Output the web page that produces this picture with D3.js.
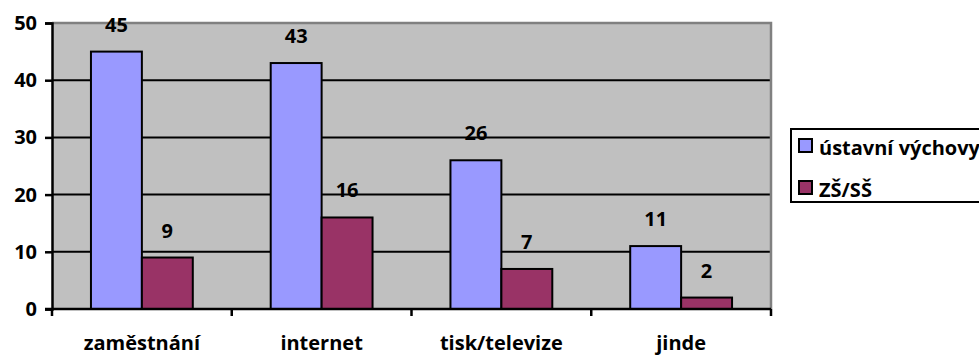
<!DOCTYPE html>
<html>
<head>
<meta charset="utf-8">
<script src="https://cdn.jsdelivr.net/npm/d3@7"></script>
<style>
  html, body { margin: 0; padding: 0; background: #fff; }
  svg { display: block; font-family: "Open Sans", sans-serif; font-weight: bold; }
</style>
</head>
<body>
<svg id="chart" width="979" height="355"></svg>
<script>
// Where respondents learned about it, by group
const categories = ["zaměstnání", "internet", "tisk/televize", "jinde"];
const seriesNames = ["ústavní výchovy", "ZŠ/SŠ"];
const ustavniVychovy = [45, 43, 26, 11];
const zsSs = [9, 16, 7, 2];
const yTicks = [0, 10, 20, 30, 40, 50];
const colors = ["#9999FF", "#993366"];

const FONT = "'Open Sans', sans-serif";
const FS = 20;

const svg = d3.select("#chart");
const plot = { left: 52, top: 23, right: 771, bottom: 309 };

const x = d3.scaleBand().domain(categories).range([plot.left, plot.right]).paddingInner(0).paddingOuter(0);
const inner = d3.scaleBand().domain(seriesNames).range([0, x.bandwidth()]).paddingInner(0).paddingOuter(0.765);
const y = d3.scaleLinear().domain([0, 50]).range([plot.bottom, plot.top]);

// plot area
svg.append("rect")
  .attr("x", plot.left).attr("y", plot.top)
  .attr("width", plot.right - plot.left).attr("height", plot.bottom - plot.top)
  .attr("fill", "#C0C0C0");

// gridlines
svg.append("g").selectAll("line")
  .data(yTicks.filter(d => d > 0 && d < 50))
  .join("line")
  .attr("x1", plot.left).attr("x2", plot.right)
  .attr("y1", d => y(d)).attr("y2", d => y(d))
  .attr("stroke", "#000").attr("stroke-width", 2);

// grey frame top and right
svg.append("path")
  .attr("d", `M${plot.left},${plot.top}H${plot.right}V${plot.bottom}`)
  .attr("fill", "none").attr("stroke", "#808080").attr("stroke-width", 2.5);

// bars
const rows = categories.map((c, i) => ({ c, vals: [ustavniVychovy[i], zsSs[i]] }));
const groups = svg.append("g").selectAll("g")
  .data(rows).join("g")
  .attr("transform", d => `translate(${x(d.c)},0)`);

groups.selectAll("rect")
  .data(d => d.vals.map((v, j) => ({ s: seriesNames[j], v, j })))
  .join("rect")
  .attr("x", d => inner(d.s))
  .attr("y", d => y(d.v))
  .attr("width", inner.bandwidth())
  .attr("height", d => y(0) - y(d.v))
  .attr("fill", d => colors[d.j])
  .attr("stroke", "#000").attr("stroke-width", 2);

groups.selectAll("text")
  .data(d => d.vals.map((v, j) => ({ s: seriesNames[j], v, j })))
  .join("text")
  .attr("x", d => inner(d.s) + inner.bandwidth() / 2)
  .attr("y", d => y(d.v) - 20)
  .attr("text-anchor", "middle")
  .attr("font-size", FS)
  .attr("fill", "#000")
  .text(d => d.v);

// y axis
const yAxis = svg.append("g")
  .attr("transform", `translate(${plot.left},0)`)
  .call(d3.axisLeft(y).tickValues(yTicks).tickSize(7).tickPadding(8));
yAxis.select(".domain").attr("stroke", "#000").attr("stroke-width", 2.5);
yAxis.selectAll(".tick line").attr("stroke", "#000").attr("stroke-width", 2.5);
yAxis.selectAll(".tick text").attr("font-size", FS).attr("font-family", FONT).attr("font-weight", "bold").attr("fill", "#000");

// x axis: ticks at category boundaries
const xAxis = svg.append("g").attr("transform", `translate(0,${plot.bottom})`);
xAxis.append("line")
  .attr("x1", plot.left - 7).attr("x2", plot.right)
  .attr("stroke", "#000").attr("stroke-width", 2.5);
const bounds = categories.map(c => x(c)).concat([plot.right]);
xAxis.selectAll("line.tk").data(bounds).join("line")
  .attr("class", "tk")
  .attr("x1", d => d).attr("x2", d => d)
  .attr("y1", 0).attr("y2", 7)
  .attr("stroke", "#000").attr("stroke-width", 2.5);
xAxis.selectAll("text").data(categories).join("text")
  .attr("x", d => x(d) + x.bandwidth() / 2)
  .attr("y", 41)
  .attr("text-anchor", "middle")
  .attr("font-size", FS)
  .attr("fill", "#000")
  .text(d => d);

// legend
const legend = svg.append("g");
legend.append("rect")
  .attr("x", 791).attr("y", 129)
  .attr("width", 200).attr("height", 73)
  .attr("fill", "#fff").attr("stroke", "#000").attr("stroke-width", 2);
seriesNames.forEach((name, i) => {
  const ly = 146 + i * 42;
  legend.append("rect")
    .attr("x", 799).attr("y", ly - 7)
    .attr("width", 13).attr("height", 13)
    .attr("fill", colors[i]).attr("stroke", "#000").attr("stroke-width", 2);
  legend.append("text")
    .attr("x", 819).attr("y", ly + 9)
    .attr("font-size", 20)
    .attr("fill", "#000")
    .text(name);
});
</script>
</body>
</html>
